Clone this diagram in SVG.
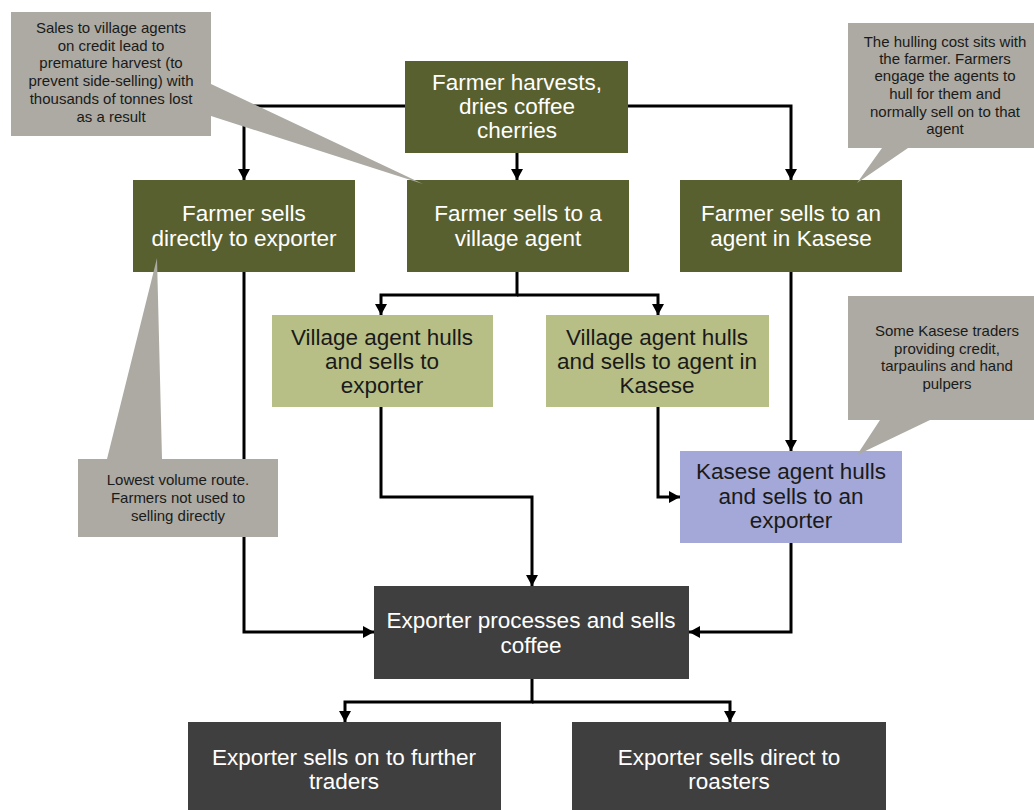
<svg xmlns="http://www.w3.org/2000/svg" width="1034" height="810" viewBox="0 0 1034 810">
<style>
.olive{fill:#59602f}
.lgreen{fill:#b7bf86}
.blue{fill:#a3a8d8}
.dark{fill:#3f3f3f}
.callout{fill:#acaaa2}
.tw{font-family:"Liberation Sans",Arial,sans-serif;font-size:22.5px;fill:#ffffff;text-anchor:middle}
.tb{font-family:"Liberation Sans",Arial,sans-serif;font-size:22.5px;fill:#1a1a1a;text-anchor:middle}
.tc{font-family:"Liberation Sans",Arial,sans-serif;font-size:15px;fill:#1a1a1a;text-anchor:middle}
.conn{fill:none;stroke:#000;stroke-width:3}
</style>
<defs>
<marker id="arr" markerUnits="userSpaceOnUse" markerWidth="12" markerHeight="12" refX="11" refY="6" orient="auto">
<path d="M0,0 L11,6 L0,12 z" fill="#000"/>
</marker>
</defs>
<rect width="1034" height="810" fill="#ffffff"/>
<g id="connectors">
<path class="conn" d="M405,106 H244 V180" marker-end="url(#arr)"/>
<path class="conn" d="M517,153 V180" marker-end="url(#arr)"/>
<path class="conn" d="M628,106 H791 V180" marker-end="url(#arr)"/>
<path class="conn" d="M517,272 V295 H381 V315" marker-end="url(#arr)"/>
<path class="conn" d="M517,295 H658 V315" marker-end="url(#arr)"/>
<path class="conn" d="M244,272 V632 H374" marker-end="url(#arr)"/>
<path class="conn" d="M791,272 V451" marker-end="url(#arr)"/>
<path class="conn" d="M381,407 V497 H532 V586" marker-end="url(#arr)"/>
<path class="conn" d="M658,407 V497 H680" marker-end="url(#arr)"/>
<path class="conn" d="M791,543 V632 H689" marker-end="url(#arr)"/>
<path class="conn" d="M532,679 V702 H345 V722" marker-end="url(#arr)"/>
<path class="conn" d="M532,702 H730 V722" marker-end="url(#arr)"/>
</g>
<g id="n_harvest">
<rect class="olive" x="405" y="61" width="223" height="92"/>
<text class="tw" x="517" y="90">Farmer harvests,</text>
<text class="tw" x="517" y="114">dries coffee</text>
<text class="tw" x="517" y="138">cherries</text>
</g>
<g id="n_direct">
<rect class="olive" x="133" y="180" width="222" height="92"/>
<text class="tw" x="244" y="221">Farmer sells</text>
<text class="tw" x="244" y="246">directly to exporter</text>
</g>
<g id="n_village">
<rect class="olive" x="407" y="180" width="222" height="92"/>
<text class="tw" x="518" y="221">Farmer sells to a</text>
<text class="tw" x="518" y="246">village agent</text>
</g>
<g id="n_kasese_agent">
<rect class="olive" x="680" y="180" width="222" height="92"/>
<text class="tw" x="791" y="221">Farmer sells to an</text>
<text class="tw" x="791" y="246">agent in Kasese</text>
</g>
<g id="n_va_exporter">
<rect class="lgreen" x="272" y="315" width="221" height="92"/>
<text class="tb" x="382" y="345">Village agent hulls</text>
<text class="tb" x="382" y="369">and sells to</text>
<text class="tb" x="382" y="393">exporter</text>
</g>
<g id="n_va_kasese">
<rect class="lgreen" x="546" y="315" width="223" height="92"/>
<text class="tb" x="657" y="345">Village agent hulls</text>
<text class="tb" x="657" y="369">and sells to agent in</text>
<text class="tb" x="657" y="393">Kasese</text>
</g>
<g id="n_kasese_hulls">
<rect class="blue" x="680" y="451" width="222" height="92"/>
<text class="tb" x="791" y="479">Kasese agent hulls</text>
<text class="tb" x="791" y="504">and sells to an</text>
<text class="tb" x="791" y="528">exporter</text>
</g>
<g id="n_exporter">
<rect class="dark" x="374" y="586" width="315" height="93"/>
<text class="tw" x="531" y="628">Exporter processes and sells</text>
<text class="tw" x="531" y="653">coffee</text>
</g>
<g id="n_traders">
<rect class="dark" x="188" y="722" width="313" height="88"/>
<text class="tw" x="344" y="765">Exporter sells on to further</text>
<text class="tw" x="344" y="789">traders</text>
</g>
<g id="n_roasters">
<rect class="dark" x="572" y="722" width="314" height="88"/>
<text class="tw" x="729" y="765">Exporter sells direct to</text>
<text class="tw" x="729" y="789">roasters</text>
</g>
<g id="c_credit">
<path class="callout" d="M11,12 H211 V84 L423,184 L211,116 V136 H11 Z"/>
<text class="tc" x="111" y="33">Sales to village agents</text>
<text class="tc" x="111" y="51">on credit lead to</text>
<text class="tc" x="111" y="68">premature harvest (to</text>
<text class="tc" x="111" y="86">prevent side-selling) with</text>
<text class="tc" x="111" y="104">thousands of tonnes lost</text>
<text class="tc" x="111" y="122">as a result</text>
</g>
<g id="c_hulling">
<path class="callout" d="M848,23 H1042 V148 H908 L857,183 L882,148 H848 Z"/>
<text class="tc" x="945" y="47">The hulling cost sits with</text>
<text class="tc" x="945" y="64">the farmer. Farmers</text>
<text class="tc" x="945" y="81">engage the agents to</text>
<text class="tc" x="945" y="99">hull for them and</text>
<text class="tc" x="945" y="117">normally sell on to that</text>
<text class="tc" x="945" y="134">agent</text>
</g>
<g id="c_traders">
<path class="callout" d="M848,296 H1046 V420 H930 L857,455 L880,420 H848 Z"/>
<text class="tc" x="947" y="336">Some Kasese traders</text>
<text class="tc" x="947" y="354">providing credit,</text>
<text class="tc" x="947" y="371">tarpaulins and hand</text>
<text class="tc" x="947" y="389">pulpers</text>
</g>
<g id="c_lowest">
<path class="callout" d="M78,459 H107 L157,258 L162,459 H278 V537 H78 Z"/>
<text class="tc" x="178" y="485">Lowest volume route.</text>
<text class="tc" x="178" y="503">Farmers not used to</text>
<text class="tc" x="178" y="521">selling directly</text>
</g>
</svg>
